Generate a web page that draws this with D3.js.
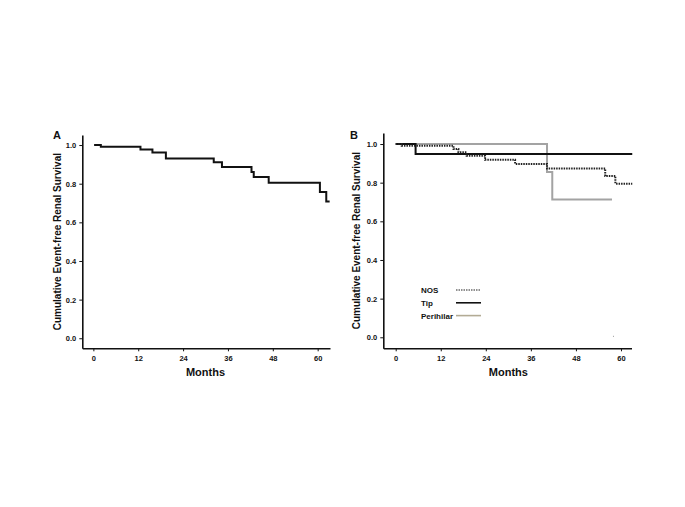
<!DOCTYPE html>
<html>
<head>
<meta charset="utf-8">
<script src="https://cdn.jsdelivr.net/npm/d3@7"></script>
<style>
body { margin: 0; background: #fff; }
svg text { font-family: "Liberation Sans", Arial, sans-serif; font-weight: bold; fill: #111; }
</style>
</head>
<body>
<script>
// panel A: overall cohort
var aMonths = [0.2, 2, 12.6, 15.8, 19.4, 32.2, 34.4, 42.3, 42.9, 46.9, 60.6, 62.3, 63.2];
var aSurv = [1.0, 0.991, 0.977, 0.962, 0.930, 0.911, 0.887, 0.861, 0.835, 0.805, 0.757, 0.708, 0.708];

// panel B: by variant
var nosMonths = [0, 1.6, 15.4, 16.7, 18.9, 23.8, 31.8, 40.3, 55.8, 58.5, 63.0];
var nosSurv = [1.0, 0.991, 0.974, 0.957, 0.939, 0.918, 0.897, 0.873, 0.835, 0.795, 0.795];
var tipMonths = [0, 5.3, 63.0];
var tipSurv = [1.0, 0.948, 0.948];
var periMonths = [0.3, 40.3, 41.7, 57.6];
var periSurv = [1.0, 0.855, 0.713, 0.713];

var xTicks = [0, 12, 24, 36, 48, 60];
var yTicks = [0.0, 0.2, 0.4, 0.6, 0.8, 1.0];
var legendNames = ["NOS", "Tip", "Perihilar"];

var width = 685, height = 507;

var svg = d3.select("body").append("svg")
	.attr("width", width).attr("height", height);

function zip(ms, ss) {
	return ms.map(function(m, i) { return [m, ss[i]]; });
}

function drawPanel(p) {
	var x = d3.scaleLinear().domain(p.xDom).range(p.xRange);
	var y = d3.scaleLinear().domain(p.yDom).range(p.yRange);
	var g = svg.append("g");

	var xAxis = g.append("g").attr("transform", "translate(0," + p.yRange[0] + ")")
		.call(d3.axisBottom(x).tickValues(xTicks).tickSize(3).tickSizeOuter(0).tickFormat(d3.format("d")));
	var yAxis = g.append("g").attr("transform", "translate(" + p.xRange[0] + ",0)")
		.call(d3.axisLeft(y).tickValues(yTicks).tickSize(3).tickSizeOuter(0).tickFormat(d3.format(".1f")));
	[xAxis, yAxis].forEach(function(a) {
		a.select(".domain").attr("stroke", "#111").attr("stroke-width", 1.6);
		a.selectAll(".tick line").attr("stroke", "#111");
		a.selectAll(".tick text").attr("font-size", 7.5).style("font-family", "Liberation Sans, Arial, sans-serif").style("font-weight", "bold");
	});
	xAxis.selectAll(".tick text").attr("dy", "0.9em");

	g.append("text").attr("x", (x(0) + x(60)) / 2).attr("y", 376)
		.attr("text-anchor", "middle").attr("font-size", 11).text("Months");
	g.append("text")
		.attr("transform", "translate(" + p.titleX + "," + (y(0.5)) + ") rotate(-90)")
		.attr("text-anchor", "middle").attr("font-size", 10)
		.text("Cumulative Event-free Renal Survival");
	g.append("text").attr("x", p.labelX).attr("y", 139).attr("font-size", 11).text(p.label);

	var line = d3.line().curve(d3.curveStepAfter)
		.x(function(d) { return x(d[0]); })
		.y(function(d) { return y(d[1]); });

	p.curves.forEach(function(c) {
		g.append("path").datum(c.data)
			.attr("fill", "none").attr("stroke", c.color)
			.attr("stroke-width", c.w)
			.attr("stroke-dasharray", c.dash || null)
			.attr("d", line);
	});
	return { x: x, y: y, g: g };
}

drawPanel({
	label: "A", labelX: 53, titleX: 61,
	xDom: [-2.96, 63.3], xRange: [82.3, 330],
	yDom: [-0.052, 1.052], yRange: [348.3, 135],
	curves: [{ data: zip(aMonths, aSurv), color: "#111", w: 2 }]
});

var b = drawPanel({
	label: "B", labelX: 350, titleX: 360,
	xDom: [-3.3, 62.8], xRange: [383.3, 631.5],
	yDom: [-0.057, 1.057], yRange: [348.3, 133],
	curves: [
		{ data: zip(periMonths, periSurv), color: "#a3a3a3", w: 2 },
		{ data: zip(tipMonths, tipSurv), color: "#111", w: 2 },
		{ data: zip(nosMonths, nosSurv), color: "#222", w: 2, dash: "1.5,1" }
	]
});

// stray censor mark near the baseline
b.g.append("rect").attr("x", b.x(58) - 0.5).attr("y", b.y(0.005) - 0.5)
	.attr("width", 1).attr("height", 1).attr("fill", "#999");

// legend
var legColors = ["#222", "#111", "#b3ab95"];
var legDash = ["1.5,1", null, null];
var leg = b.g.append("g");
legendNames.forEach(function(name, i) {
	var yy = 290 + i * 12.8;
	leg.append("text").attr("x", 421).attr("y", yy + 3).attr("font-size", 8).text(name);
	leg.append("line").attr("x1", 456).attr("x2", 481).attr("y1", yy).attr("y2", yy)
		.attr("stroke", legColors[i]).attr("stroke-width", i == 0 ? 1.2 : 1.6)
		.attr("stroke-dasharray", legDash[i]);
});
</script>
</body>
</html>
